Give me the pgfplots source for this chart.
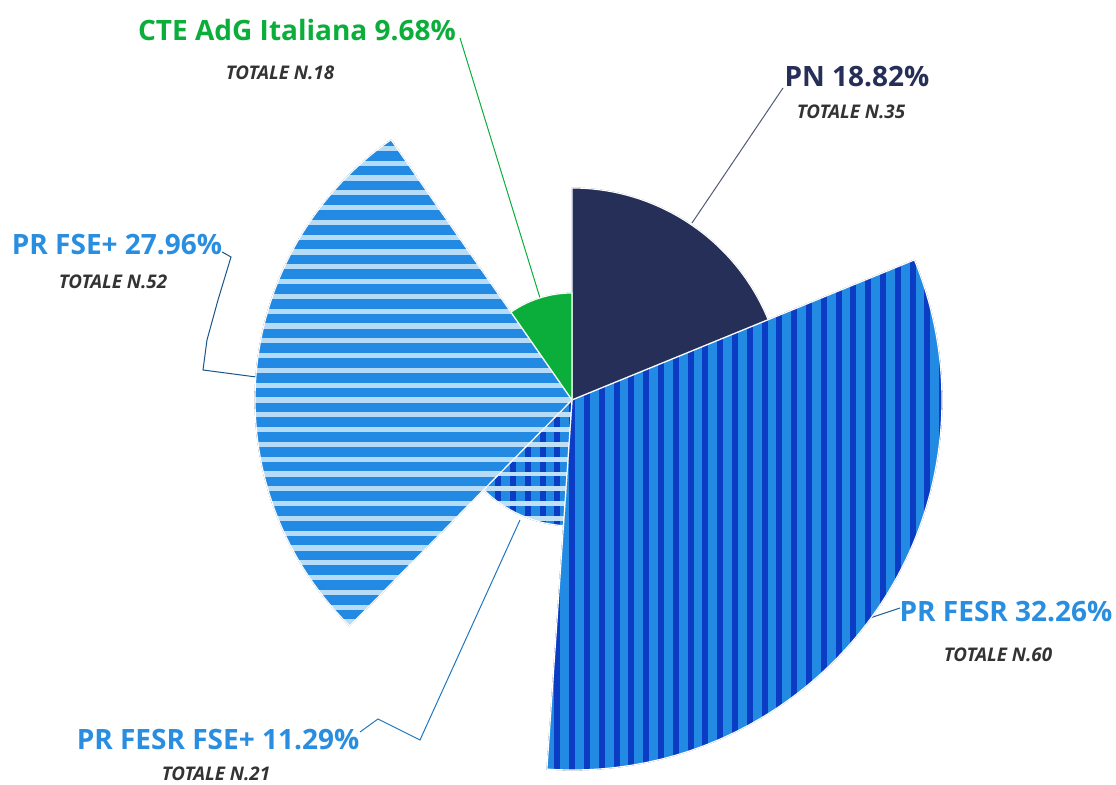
\documentclass[border=0pt]{standalone}
\usepackage{pgfplots}
\pgfplotsset{compat=1.18}
\usepackage{pgfplotstable}
\usepackage{fontspec}
\setmainfont{Open Sans}

\definecolor{pncol}{HTML}{262F57}
\definecolor{ctecol}{HTML}{0BAE3A}
\definecolor{bluebase}{HTML}{238AE3}
\definecolor{bluedark}{HTML}{0B3DC4}
\definecolor{bluelight}{HTML}{B5DBF7}
\definecolor{labblue}{HTML}{2A8EE0}
\definecolor{totcol}{HTML}{333333}

\tikzset{
  lab/.style={font=\bfseries\fontsize{14}{16}\selectfont, inner sep=0pt, anchor=center},
  tot/.style={font=\bfseries\itshape\fontsize{9.4}{11}\selectfont, text=totcol, inner sep=0pt, anchor=center},
}

% sector outline built from the row's data (angles, radius in px; 1px = 0.5pt)
\newcommand\secpath{(0,0) -- ({\aone}:{\rad*0.5pt}) arc[start angle=\aone, end angle=\atwo, radius={\rad*0.5pt}] -- cycle}
% stripe fills (period 14.8px)
\newcommand\vstripes[2]{\foreach \i in {-26,...,26} {\fill[#1] ({\i*7.4pt-#2},-200pt) rectangle ({\i*7.4pt+#2},200pt);}}
\newcommand\hstripes[2]{\foreach \i in {-26,...,26} {\fill[#1] (-200pt,{\i*7.4pt-#2}) rectangle (200pt,{\i*7.4pt+#2});}}

% sectors: centre (x,y), start angle, end angle, radius (px), id
\pgfplotstableread{
x   y   a1       a2       r    id
572 385 22.248   90       212  1
572 385 -93.888  22.248   370  2
572 385 -134.532 -93.888  126  3
572 385 124.812  225.468  317  4
572 385 89.96    124.812  107  5
}\sectors

\begin{document}
\begin{tikzpicture}
\begin{axis}[
  x=0.5pt, y=0.5pt,
  xmin=0, xmax=1116, ymin=0, ymax=785,
  hide axis, clip=false, scale only axis,
]
\addplot[
  only marks, scatter, mark=*, mark size=0pt,
  visualization depends on={\thisrow{a1} \as \aone},
  visualization depends on={\thisrow{a2} \as \atwo},
  visualization depends on={\thisrow{r} \as \rad},
  visualization depends on={\thisrow{id} \as \sid},
  scatter/@pre marker code/.code={%
    \pgfmathtruncatemacro\k{\sid}%
    \ifcase\k\relax
    \or \fill[pncol] \secpath;%
    \or \begin{scope}\clip \secpath;
          \fill[bluebase] (-200pt,-200pt) rectangle (200pt,200pt);
          \vstripes{bluedark}{1.25pt}\end{scope}%
    \or \begin{scope}\clip \secpath;
          \fill[bluebase] (-200pt,-200pt) rectangle (200pt,200pt);
          \vstripes{bluedark}{1.25pt}\hstripes{bluelight!85!white}{0.95pt}\end{scope}%
    \or \begin{scope}\clip \secpath;
          \fill[bluebase] (-200pt,-200pt) rectangle (200pt,200pt);
          \hstripes{bluelight}{1.05pt}\end{scope}%
    \or \fill[ctecol] \secpath;%
    \fi
    \draw[white, line width=0.6pt] \secpath;
  },
  scatter/@post marker code/.code={},
] table[x=x, y=y] {\sectors};

% leader lines
\addplot[no marks, draw=ctecol, line width=0.5pt] coordinates {(460,747) (540,487)};
\addplot[no marks, draw=pncol!80, line width=0.5pt] coordinates {(783,697) (692,562)};
\addplot[no marks, draw=labblue!60!black, line width=0.5pt] coordinates {(222,533) (231,528) (218,485) (207,445) (203,415) (256,408)};
\addplot[no marks, draw=labblue!85!black, line width=0.5pt] coordinates {(360,53) (378,66) (420,45) (520,265)};
\addplot[no marks, draw=labblue!70!black, line width=0.5pt] coordinates {(870,167) (900,177)};

% labels
\node[lab, text=ctecol] at (axis cs:297,755) {CTE AdG Italiana 9.68\%};
\node[tot] at (axis cs:280,712) {TOTALE N.18};
\node[lab, text=pncol] at (axis cs:857,708) {PN 18.82\%};
\node[tot] at (axis cs:851,673) {TOTALE N.35};
\node[lab, text=labblue] at (axis cs:117,540) {PR FSE+ 27.96\%};
\node[tot] at (axis cs:113,503) {TOTALE N.52};
\node[lab, text=labblue] at (axis cs:218,45) {PR FESR FSE+ 11.29\%};
\node[tot] at (axis cs:216,11) {TOTALE N.21};
\node[lab, text=labblue] at (axis cs:1006,173) {PR FESR 32.26\%};
\node[tot] at (axis cs:998,130) {TOTALE N.60};
\end{axis}
\pgfresetboundingbox
\path (current axis.south west) rectangle (current axis.north east);
\end{tikzpicture}
\end{document}
